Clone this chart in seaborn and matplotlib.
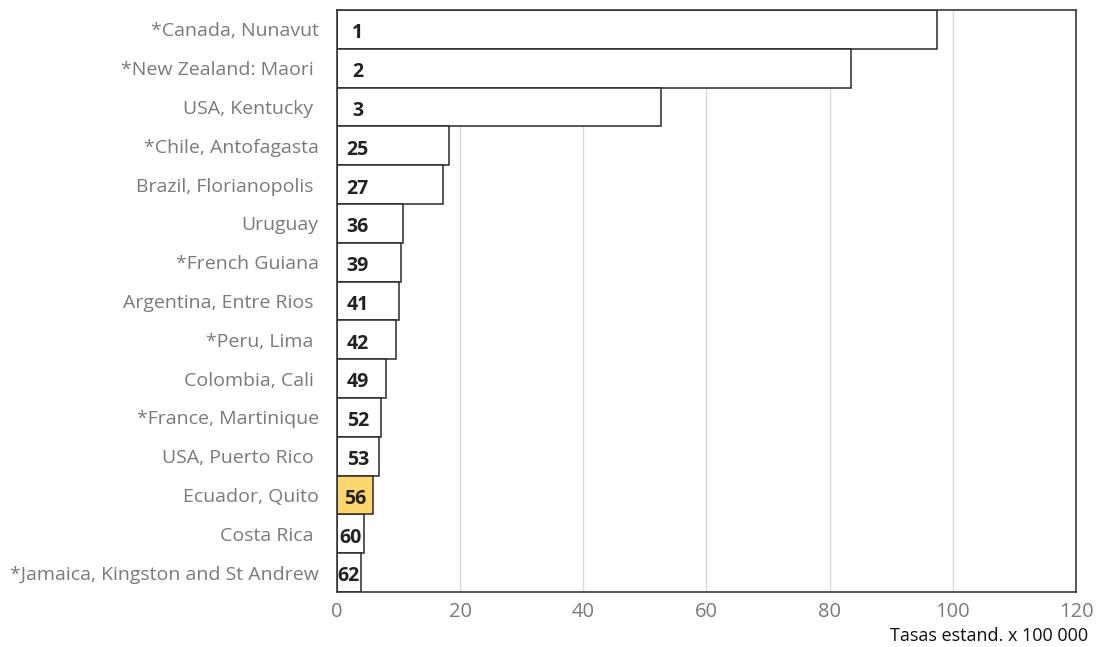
import matplotlib.pyplot as plt
import pandas as pd
import seaborn as sns

regions = [
    "*Canada, Nunavut", "*New Zealand: Maori ", "USA, Kentucky ", "*Chile, Antofagasta",
    "Brazil, Florianopolis ", "Uruguay", "*French Guiana", "Argentina, Entre Rios ",
    "*Peru, Lima ", "Colombia, Cali ", "*France, Martinique", "USA, Puerto Rico ",
    "Ecuador, Quito", "Costa Rica ", "*Jamaica, Kingston and St Andrew",
]
rates = [97.4, 83.5, 52.6, 18.2, 17.2, 10.8, 10.4, 10.1, 9.6, 8.0, 7.1, 6.9, 5.9, 4.4, 3.9]
ranks = [1, 2, 3, 25, 27, 36, 39, 41, 42, 49, 52, 53, 56, 60, 62]
highlight = "Ecuador, Quito"

df = pd.DataFrame({"region": regions, "rate": rates, "rank": ranks})
df["group"] = ["hl" if r == highlight else "other" for r in df["region"]]

sns.set_theme(style="white")
plt.rcParams["font.family"] = ["Open Sans", "DejaVu Sans"]

fig = plt.figure(figsize=(10.97, 6.47), dpi=100)
ax = fig.add_axes([0.307, 0.085, 0.674, 0.8995])

sns.barplot(data=df, y="region", x="rate", hue="group", orient="h",
            palette={"hl": "#fdd76c", "other": "white"}, saturation=1, dodge=False,
            width=1.0, edgecolor="#2a2a2a", linewidth=1.1, legend=False, ax=ax, zorder=2)

# rank numbers inside the bars
for i, row in df.iterrows():
    xc = min(3.4, row["rate"] / 2)
    ax.text(xc, i + 0.1, str(row["rank"]), ha="center", va="center",
            fontsize=14, fontweight="bold", color="#222222", zorder=3)

ax.set_xlim(0, 120)
ax.set_ylim(len(df) - 0.5, -0.5)
ax.set_xticks(range(0, 121, 20))
ax.xaxis.grid(True, color="#d9d9d9", linewidth=1, zorder=0)
ax.set_axisbelow(True)
for s in ax.spines.values():
    s.set_color("#2a2a2a")
    s.set_linewidth(1.1)
ax.tick_params(axis="y", length=0, labelsize=14, labelcolor="#7a7a7a", pad=13)
ax.tick_params(axis="x", length=0, labelsize=14.5, labelcolor="#7a7a7a", pad=7)
ax.set_ylabel("")
ax.set_xlabel("")
fig.text(1088 / 1097, 1 - 636 / 647, "Tasas estand. x 100 000", fontsize=13,
         color="#111111", ha="right", va="center")

fig.savefig("out.png", dpi=100)
